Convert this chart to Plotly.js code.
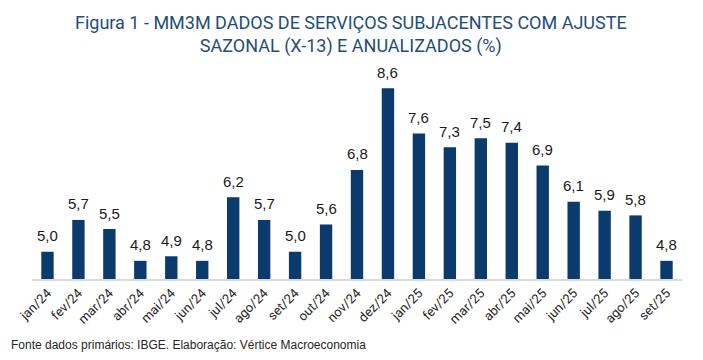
<!DOCTYPE html>
<html>
<head>
<meta charset="utf-8">
<script src="https://cdn.plot.ly/plotly-3.0.1.min.js"></script>
<style>
html,body{margin:0;padding:0;background:#fff;}
#chart{width:703px;height:360px;}
</style>
</head>
<body>
<div id="chart"></div>
<script>
var categories = ["jan/24","fev/24","mar/24","abr/24","mai/24","jun/24","jul/24","ago/24","set/24","out/24","nov/24","dez/24","jan/25","fev/25","mar/25","abr/25","mai/25","jun/25","jul/25","ago/25","set/25"];
var values = [5.0,5.7,5.5,4.8,4.9,4.8,6.2,5.7,5.0,5.6,6.8,8.6,7.6,7.3,7.5,7.4,6.9,6.1,5.9,5.8,4.8];
var valueLabels = values.map(function(v){ return v.toFixed(1).replace('.', ','); });

var titleText = "Figura 1 - MM3M DADOS DE SERVIÇOS SUBJACENTES COM AJUSTE<br>SAZONAL (X-13) E ANUALIZADOS (%)";
var sourceText = "Fonte dados primários: IBGE. Elaboração: Vértice Macroeconomia";

var yBase = 4.4;

var trace = {
  type: 'bar',
  x: categories,
  y: values.map(function(v){ return v - yBase; }),
  base: yBase,
  marker: {color: '#0B3A6C'},
  width: 0.4,
  hoverinfo: 'x+y'
};

var annotations = categories.map(function(c, i){
  return {
    x: c, y: values[i], xref: 'x', yref: 'y',
    text: valueLabels[i], showarrow: false,
    yanchor: 'middle', yshift: 16,
    font: {family: 'Liberation Sans, Arial, sans-serif', size: 15, color: '#1a1a1a'}
  };
});
annotations.push({
  xref: 'paper', yref: 'paper', x: 0, y: 0,
  xanchor: 'left', yanchor: 'middle',
  text: sourceText, showarrow: false,
  xshift: -23, yshift: -66,
  font: {family: 'Liberation Sans, Arial, sans-serif', size: 12, color: '#262626'}
});
annotations.push({
  xref: 'paper', yref: 'paper', x: 0.5, y: 1,
  xanchor: 'center', yanchor: 'middle',
  text: titleText, showarrow: false,
  xshift: -6, yshift: 36,
  font: {family: 'Roboto, Liberation Sans, sans-serif', size: 18, color: '#1F4E79'}
});

var layout = {
  width: 703, height: 360,
  paper_bgcolor: '#ffffff', plot_bgcolor: '#ffffff',
  margin: {l: 32, r: 21, t: 70, b: 81},
  showlegend: false,
  xaxis: {
    type: 'category',
    tickangle: -45,
    showline: true, linecolor: '#D9D9D9', linewidth: 1.5,
    ticks: '', showgrid: false, zeroline: false,
    tickfont: {family: 'Roboto, Liberation Sans, sans-serif', size: 13, color: '#262626'}
  },
  yaxis: {
    range: [4.4, 9.0],
    visible: false, showgrid: false, zeroline: false
  },
  annotations: annotations,
  bargap: 0.6
};

Plotly.newPlot('chart', [trace], layout, {displayModeBar: false, staticPlot: true});
</script>
</body>
</html>
